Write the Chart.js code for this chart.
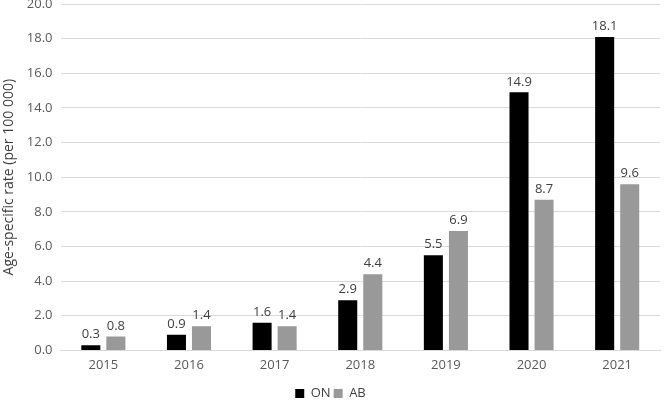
<!DOCTYPE html>
<html>
<head>
<meta charset="utf-8">
<script src="https://cdn.jsdelivr.net/npm/chart.js@4/dist/chart.umd.min.js"></script>
<style>
    body { margin: 0; background: #fff; }
    #wrap { width: 669px; height: 402px; }
</style>
</head>
<body>
<div id="wrap"><canvas id="chartRate" width="669" height="402"></canvas></div>
<script>
const years = ['2015', '2016', '2017', '2018', '2019', '2020', '2021'];
const valuesON = [0.3, 0.9, 1.6, 2.9, 5.5, 14.9, 18.1];
const valuesAB = [0.8, 1.4, 1.4, 4.4, 6.9, 8.7, 9.6];
const yTicks = [0, 2, 4, 6, 8, 10, 12, 14, 16, 18, 20];

const FONT = 'Open Sans, Liberation Sans, sans-serif';

// подписи значений над столбцами
const barLabels = {
    id: 'barLabels',
    afterDatasetsDraw(chart) {
        const ctx = chart.ctx;
        ctx.save();
        ctx.font = '13px ' + FONT;
        ctx.fillStyle = '#404040';
        ctx.textAlign = 'center';
        ctx.textBaseline = 'bottom';
        chart.data.datasets.forEach((ds, i) => {
            chart.getDatasetMeta(i).data.forEach((bar, j) => {
                ctx.fillText(ds.data[j].toFixed(1), bar.x, bar.y - 4);
            });
        });
        ctx.restore();
    }
};

new Chart(document.getElementById('chartRate'), {
    type: 'bar',
    data: {
        labels: years,
        datasets: [
            { label: 'ON', data: valuesON, backgroundColor: '#000000' },
            { label: 'AB', data: valuesAB, backgroundColor: '#999999' }
        ]
    },
    options: {
        responsive: false,
        animation: false,
        layout: { padding: { top: 4, right: 9, left: 1, bottom: -8 } },
        datasets: { bar: { categoryPercentage: 0.585, barPercentage: 0.76 } },
        scales: {
            x: {
                grid: { display: false, drawTicks: false },
                border: { color: '#d9d9d9' },
                ticks: { color: '#595959', font: { family: FONT, size: 13 }, padding: 7 },
                afterFit: s => { s.height += 4; }
            },
            y: {
                min: 0,
                max: 20,
                afterBuildTicks: axis => { axis.ticks = yTicks.map(v => ({ value: v })); },
                afterFit: s => { s.paddingTop = 0; s.paddingBottom = 0; },
                grid: { color: '#d9d9d9', drawTicks: false },
                border: { display: false },
                ticks: {
                    color: '#595959',
                    font: { family: FONT, size: 13 },
                    padding: 8,
                    callback: v => v.toFixed(1)
                },
                title: {
                    display: true,
                    text: 'Age-specific rate (per 100 000)',
                    color: '#404040',
                    font: { family: FONT, size: 14 },
                    padding: { top: 0, bottom: 1 }
                }
            }
        },
        plugins: {
            legend: {
                position: 'bottom',
                labels: {
                    color: '#404040',
                    font: { family: FONT, size: 13 },
                    boxWidth: 9,
                    boxHeight: 9,
                    padding: 3
                }
            },
            tooltip: { enabled: false }
        }
    },
    plugins: [barLabels]
});
</script>
</body>
</html>
